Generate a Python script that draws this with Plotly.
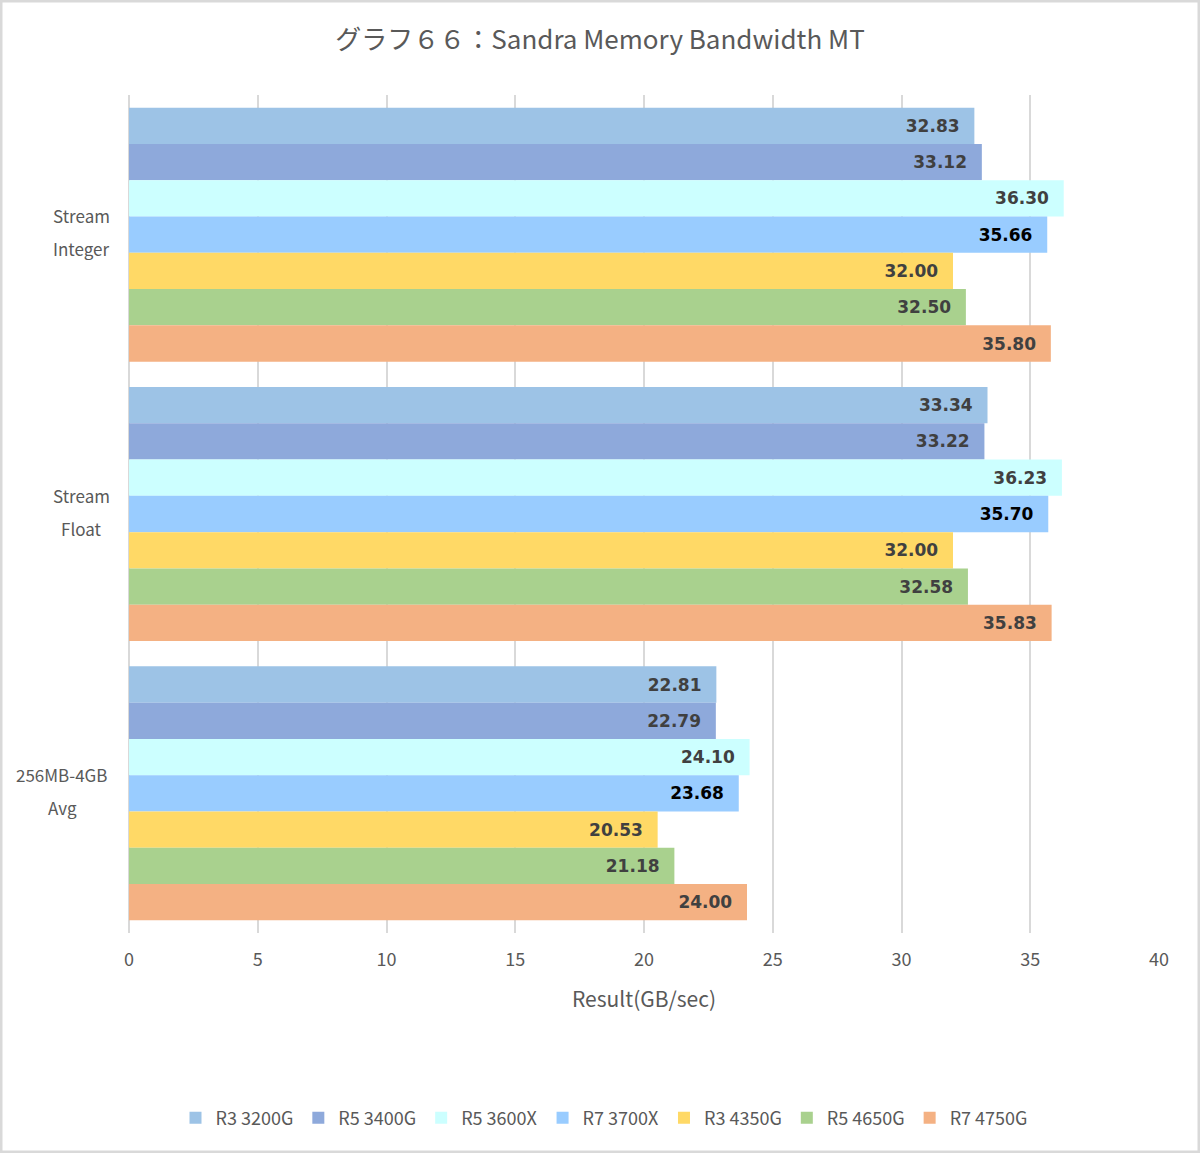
import plotly.graph_objects as go

categories = ["Stream Integer", "Stream Float", "256MB-4GB Avg"]
category_lines = [["Stream", "Integer"], ["Stream", "Float"], ["256MB-4GB", "Avg"]]
series_names = ["R3 3200G", "R5 3400G", "R5 3600X", "R7 3700X", "R3 4350G", "R5 4650G", "R7 4750G"]
r3_3200g = [32.83, 33.34, 22.81]
r5_3400g = [33.12, 33.22, 22.79]
r5_3600x = [36.30, 36.23, 24.10]
r7_3700x = [35.66, 35.70, 23.68]
r3_4350g = [32.00, 32.00, 20.53]
r5_4650g = [32.50, 32.58, 21.18]
r7_4750g = [35.80, 35.83, 24.00]
series_values = [r3_3200g, r5_3400g, r5_3600x, r7_3700x, r3_4350g, r5_4650g, r7_4750g]
colors = ["#9DC3E6", "#8EA9DB", "#CCFFFF", "#99CCFF", "#FFD966", "#A9D18E", "#F4B183"]
label_colors = ["#404040", "#404040", "#404040", "#000000", "#404040", "#404040", "#404040"]
x_ticks = [0, 5, 10, 15, 20, 25, 30, 35, 40]

fig = go.Figure()
for name, vals, col, lc in zip(series_names, series_values, colors, label_colors):
    fig.add_trace(go.Bar(
        y=categories, x=vals, name=name, orientation="h",
        marker=dict(color=col, line=dict(width=0)),
        texttemplate="%{x:.2f}\u00a0\u00a0", textposition="inside",
        insidetextanchor="end", textangle=0,
        insidetextfont=dict(family="DejaVu Sans", size=17, color=lc, weight="bold"),
        hoverinfo="x+name",
    ))

annotations = []
for cat, lines in zip(categories, category_lines):
    for i, line in enumerate(lines):
        annotations.append(dict(
            x=-18 / 1030, xref="paper", y=cat, yref="y",
            text=line, showarrow=False, xanchor="center", yanchor="middle",
            xshift=-30 if cat != "256MB-4GB Avg" else -49,
            yshift=(19 - 33 * i),
            font=dict(size=17, color="#595959", family="Noto Sans CJK JP"),
        ))

fig.update_layout(
    width=1200, height=1153,
    paper_bgcolor="white", plot_bgcolor="white",
    barmode="group", bargap=0.0909, bargroupgap=0,
    margin=dict(l=129, r=41, t=95, b=220),
    font=dict(family="Noto Sans CJK JP", color="#595959"),
    title=dict(text="グラフ６６：Sandra Memory Bandwidth MT", x=0.5, xanchor="center",
               y=1 - 40 / 1153, yanchor="middle",
               font=dict(size=26, color="#595959", family="Noto Sans CJK JP")),
    xaxis=dict(range=[0, 40], tickvals=x_ticks, showgrid=True, gridcolor="#D9D9D9", gridwidth=1.5,
               zeroline=True, zerolinecolor="#D9D9D9", zerolinewidth=1.5,
               tickfont=dict(size=18, color="#595959"), ticks="", ticklabelstandoff=14,
               title=dict(text="Result(GB/sec)", font=dict(size=21, color="#595959"), standoff=22),
               fixedrange=True),
    yaxis=dict(autorange="reversed", showgrid=False, showticklabels=False, ticks=""),
    legend=dict(orientation="h", x=(604 - 129) / 1030, xanchor="center", y=-(1118 - 933) / 838,
                yanchor="middle", font=dict(size=18, color="#595959"), itemwidth=30,
                traceorder="normal"),
    annotations=annotations,
    shapes=[dict(type="rect", xref="paper", yref="paper", x0=-128 / 1030, x1=1 + 40 / 1030,
                 y0=-219 / 838, y1=1 + 94 / 838, line=dict(color="#D9D9D9", width=3))],
)

fig.write_html("out.html", config={"displayModeBar": False})
with open("out.html", "r", encoding="utf-8") as f:
    html = f.read()
html = html.replace("<head>", "<head><style>html,body{margin:0;padding:0;overflow:hidden;}</style>", 1)
with open("out.html", "w", encoding="utf-8") as f:
    f.write(html)
